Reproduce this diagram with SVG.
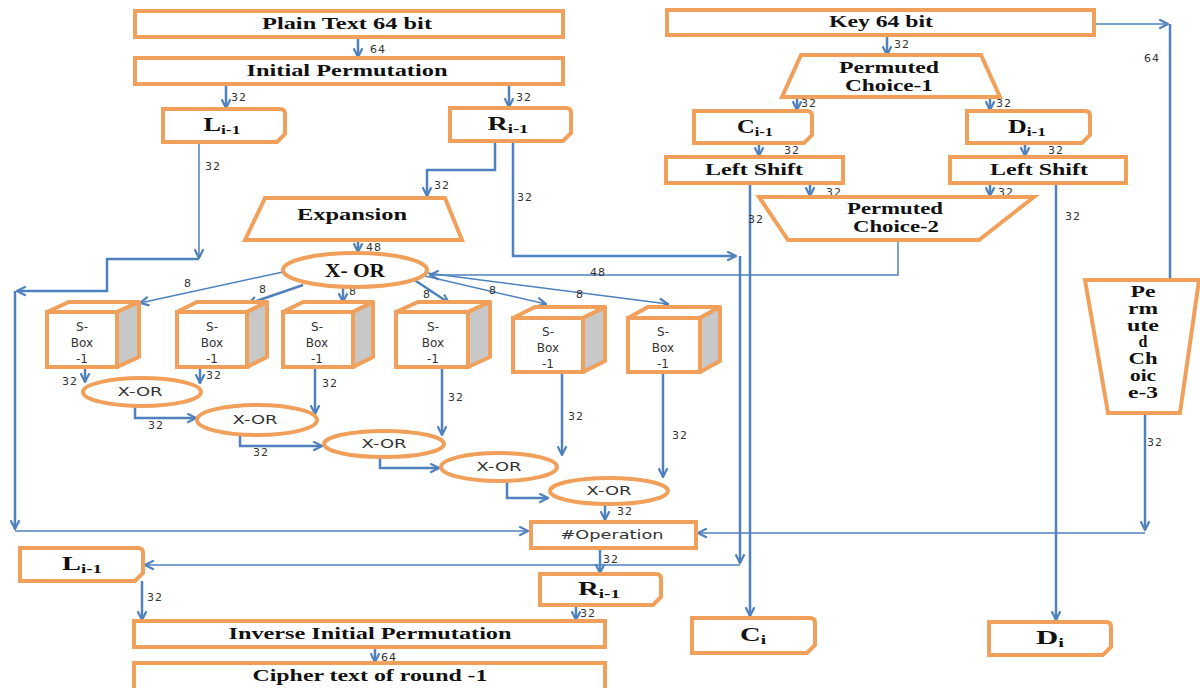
<svg xmlns="http://www.w3.org/2000/svg" width="1200" height="688" viewBox="0 0 1200 688">
<style>
.box{fill:#fff;stroke:#F0A05A;stroke-width:4}
.side{fill:#C8C8C8;stroke:#F0A05A;stroke-width:4;stroke-linejoin:round}
.c{fill:none;stroke:#4F81BD;stroke-width:2.5}
.t{fill:none;stroke:#4F81BD;stroke-width:1.5}
.lbl{font-family:"Liberation Serif",serif;font-weight:bold;font-size:16px;fill:#111;text-anchor:middle}
.big{font-size:18px}
.sub{font-size:12px}
.num{font-family:"DejaVu Sans",sans-serif;font-size:11px;fill:#333;letter-spacing:1px}
.sb{font-family:"DejaVu Sans",sans-serif;font-size:12px;fill:#333;text-anchor:middle}
.xo{font-family:"DejaVu Sans",sans-serif;font-size:12px;fill:#333;text-anchor:middle}
</style>
<defs>
<marker id="a" viewBox="0 0 10 10" refX="9" refY="5" markerWidth="11" markerHeight="11" markerUnits="userSpaceOnUse" orient="auto">
<path d="M1,1 L9,5 L1,9" fill="none" stroke="#4F81BD" stroke-width="2"/>
</marker>
</defs>

<g id="connectors">
<path class="c" d="M358,37 V57" marker-end="url(#a)"/>
<path class="c" d="M226,84 V108" marker-end="url(#a)"/>
<path class="c" d="M509,84 V107" marker-end="url(#a)"/>
<path class="t" d="M199,142 V258" marker-end="url(#a)"/>
<path class="c" d="M199,259 H107 V291 H17" marker-end="url(#a)"/>
<path class="c" d="M15,291 V529" marker-end="url(#a)"/>
<path class="t" d="M15,531 H528" marker-end="url(#a)"/>
<path class="c" d="M495,141 V170 H427 V196" marker-end="url(#a)"/>
<path class="c" d="M513,141 V256 H736" marker-end="url(#a)"/>
<path class="c" d="M740,256 V563" marker-end="url(#a)"/>
<path class="t" d="M740,565 H145" marker-end="url(#a)"/>
<path class="c" d="M358,240 V252" marker-end="url(#a)"/>
<path class="t" d="M283,272 L140,303" marker-end="url(#a)"/>
<path class="c" d="M303,285 L248,304" marker-end="url(#a)"/>
<path class="c" d="M343,286 V302" marker-end="url(#a)"/>
<path class="c" d="M413,279 L449,303" marker-end="url(#a)"/>
<path class="t" d="M425,276 L546,304" marker-end="url(#a)"/>
<path class="t" d="M427,273 L668,304" marker-end="url(#a)"/>
<path class="t" d="M898,240 V275 H430" marker-end="url(#a)"/>
<path class="c" d="M85,367 V382" marker-end="url(#a)"/>
<path class="c" d="M200,367 V383" marker-end="url(#a)"/>
<path class="c" d="M315,367 V414" marker-end="url(#a)"/>
<path class="c" d="M442,367 V435" marker-end="url(#a)"/>
<path class="c" d="M562,372 V455" marker-end="url(#a)"/>
<path class="c" d="M663,372 V477" marker-end="url(#a)"/>
<path class="c" d="M135,407 V418 H196" marker-end="url(#a)"/>
<path class="c" d="M240,434 V446 H322" marker-end="url(#a)"/>
<path class="c" d="M380,457 V468 H439" marker-end="url(#a)"/>
<path class="c" d="M507,481 V498 H548" marker-end="url(#a)"/>
<path class="c" d="M605,505 V520" marker-end="url(#a)"/>
<path class="c" d="M600,548 V573" marker-end="url(#a)"/>
<path class="c" d="M142,581 V620" marker-end="url(#a)"/>
<path class="c" d="M576,605 V620" marker-end="url(#a)"/>
<path class="c" d="M375,647 V662" marker-end="url(#a)"/>
<path class="c" d="M887,35 V55" marker-end="url(#a)"/>
<path class="t" d="M1094,24 H1168" marker-end="url(#a)"/>
<path class="c" d="M1170,24 V280"/>
<path class="c" d="M797,97 V110" marker-end="url(#a)"/>
<path class="c" d="M990,97 V110" marker-end="url(#a)"/>
<path class="c" d="M759,143 V156" marker-end="url(#a)"/>
<path class="c" d="M1025,143 V156" marker-end="url(#a)"/>
<path class="c" d="M810,183 V196" marker-end="url(#a)"/>
<path class="c" d="M990,183 V196" marker-end="url(#a)"/>
<path class="c" d="M750,183 V616" marker-end="url(#a)"/>
<path class="c" d="M1056,183 V620" marker-end="url(#a)"/>
<path class="c" d="M1145,413 V530" marker-end="url(#a)"/>
<path class="t" d="M1145,533 H698" marker-end="url(#a)"/>
<text class="num" x="370" y="53">64</text>
<text class="num" x="231" y="101">32</text>
<text class="num" x="516" y="101">32</text>
<text class="num" x="205" y="170">32</text>
<text class="num" x="434" y="189">32</text>
<text class="num" x="517" y="201">32</text>
<text class="num" x="366" y="251">48</text>
<text class="num" x="184" y="287">8</text>
<text class="num" x="259" y="293">8</text>
<text class="num" x="349" y="295">8</text>
<text class="num" x="423" y="298">8</text>
<text class="num" x="489" y="294">8</text>
<text class="num" x="576" y="298">8</text>
<text class="num" x="590" y="276">48</text>
<text class="num" x="62" y="385">32</text>
<text class="num" x="206" y="379">32</text>
<text class="num" x="322" y="387">32</text>
<text class="num" x="448" y="401">32</text>
<text class="num" x="568" y="420">32</text>
<text class="num" x="672" y="439">32</text>
<text class="num" x="148" y="429">32</text>
<text class="num" x="253" y="456">32</text>
<text class="num" x="617" y="515">32</text>
<text class="num" x="603" y="563">32</text>
<text class="num" x="147" y="601">32</text>
<text class="num" x="580" y="617">32</text>
<text class="num" x="381" y="661">64</text>
<text class="num" x="894" y="48">32</text>
<text class="num" x="1144" y="62">64</text>
<text class="num" x="801" y="107">32</text>
<text class="num" x="996" y="107">32</text>
<text class="num" x="784" y="154">32</text>
<text class="num" x="1048" y="154">32</text>
<text class="num" x="826" y="196">32</text>
<text class="num" x="998" y="196">32</text>
<text class="num" x="748" y="223">32</text>
<text class="num" x="1065" y="220">32</text>
<text class="num" x="1147" y="446">32</text>
</g>

<g id="plain"><rect class="box" x="135" y="11" width="428" height="26"/><text class="lbl" x="347" y="29" textLength="170" lengthAdjust="spacingAndGlyphs">Plain Text 64 bit</text></g>
<g id="ip"><rect class="box" x="135" y="58" width="428" height="26"/><text class="lbl" x="347" y="76" textLength="201" lengthAdjust="spacingAndGlyphs">Initial Permutation</text></g>
<g id="l-top"><path class="box" d="M163,109 H280 Q285,109 285,114 V134 L277,142 H163 Z"/><text class="lbl big" x="222" y="131" textLength="37" lengthAdjust="spacingAndGlyphs">L<tspan class="sub" dy="3">i-1</tspan></text></g>
<g id="r-top"><path class="box" d="M450,108 H566 Q571,108 571,113 V133 L563,141 H450 Z"/><text class="lbl big" x="508" y="130" textLength="41" lengthAdjust="spacingAndGlyphs">R<tspan class="sub" dy="3">i-1</tspan></text></g>
<g id="expansion"><polygon class="box" points="265,198 445,198 462,240 245,240"/><text class="lbl" x="352" y="220" textLength="110" lengthAdjust="spacingAndGlyphs">Expansion</text></g>
<g id="xor-main"><ellipse class="box" cx="355" cy="270" rx="72" ry="17"/><text class="lbl big" x="355" y="277" textLength="60" lengthAdjust="spacingAndGlyphs">X- OR</text></g>

<g id="sbox1"><rect class="box" x="47" y="312" width="70" height="55"/><polygon class="box" points="47,312 117,312 139,302 69,302"/><polygon class="side" points="117,312 139,302 139,357 117,367"/><text class="sb" x="82" y="331">S-</text><text class="sb" x="82" y="347">Box</text><text class="sb" x="82" y="363">-1</text></g>
<g id="sbox2"><rect class="box" x="177" y="312" width="70" height="55"/><polygon class="box" points="177,312 247,312 267,302 197,302"/><polygon class="side" points="247,312 267,302 267,357 247,367"/><text class="sb" x="212" y="331">S-</text><text class="sb" x="212" y="347">Box</text><text class="sb" x="212" y="363">-1</text></g>
<g id="sbox3"><rect class="box" x="283" y="312" width="70" height="55"/><polygon class="box" points="283,312 353,312 373,302 303,302"/><polygon class="side" points="353,312 373,302 373,357 353,367"/><text class="sb" x="317" y="331">S-</text><text class="sb" x="317" y="347">Box</text><text class="sb" x="317" y="363">-1</text></g>
<g id="sbox4"><rect class="box" x="396" y="312" width="72" height="55"/><polygon class="box" points="396,312 468,312 490,302 418,302"/><polygon class="side" points="468,312 490,302 490,357 468,367"/><text class="sb" x="433" y="331">S-</text><text class="sb" x="433" y="347">Box</text><text class="sb" x="433" y="363">-1</text></g>
<g id="sbox5"><rect class="box" x="513" y="318" width="70" height="54"/><polygon class="box" points="513,318 583,318 605,307 535,307"/><polygon class="side" points="583,318 605,307 605,361 583,372"/><text class="sb" x="548" y="336">S-</text><text class="sb" x="548" y="352">Box</text><text class="sb" x="548" y="368">-1</text></g>
<g id="sbox6"><rect class="box" x="628" y="318" width="72" height="54"/><polygon class="box" points="628,318 700,318 720,307 648,307"/><polygon class="side" points="700,318 720,307 720,361 700,372"/><text class="sb" x="663" y="336">S-</text><text class="sb" x="663" y="352">Box</text><text class="sb" x="663" y="368">-1</text></g>

<g id="xor1"><ellipse class="box" cx="142" cy="392" rx="59" ry="14"/><text class="xo" x="140" y="396" textLength="45" lengthAdjust="spacingAndGlyphs">X-OR</text></g>
<g id="xor2"><ellipse class="box" cx="257" cy="420" rx="60" ry="15"/><text class="xo" x="255" y="424" textLength="45" lengthAdjust="spacingAndGlyphs">X-OR</text></g>
<g id="xor3"><ellipse class="box" cx="384" cy="444" rx="60" ry="13"/><text class="xo" x="384" y="448" textLength="45" lengthAdjust="spacingAndGlyphs">X-OR</text></g>
<g id="xor4"><ellipse class="box" cx="499" cy="467" rx="58" ry="14"/><text class="xo" x="499" y="471" textLength="45" lengthAdjust="spacingAndGlyphs">X-OR</text></g>
<g id="xor5"><ellipse class="box" cx="609" cy="491" rx="59" ry="13"/><text class="xo" x="609" y="495" textLength="45" lengthAdjust="spacingAndGlyphs">X-OR</text></g>

<g id="operation"><rect class="box" x="531" y="522" width="165" height="26"/><text class="xo" x="612" y="539" textLength="103" lengthAdjust="spacingAndGlyphs">#Operation</text></g>
<g id="l-bot"><path class="box" d="M20,548 H138 Q143,548 143,553 V573 L135,581 H20 Z"/><text class="lbl big" x="82" y="570" textLength="40" lengthAdjust="spacingAndGlyphs">L<tspan class="sub" dy="3">i-1</tspan></text></g>
<g id="r-bot"><path class="box" d="M540,574 H656 Q661,574 661,579 V597 L653,605 H540 Z"/><text class="lbl big" x="599" y="595" textLength="42" lengthAdjust="spacingAndGlyphs">R<tspan class="sub" dy="3">i-1</tspan></text></g>
<g id="iip"><rect class="box" x="134" y="621" width="471" height="26"/><text class="lbl" x="370" y="639" textLength="283" lengthAdjust="spacingAndGlyphs">Inverse Initial Permutation</text></g>
<g id="cipher"><rect class="box" x="134" y="663" width="471" height="30"/><text class="lbl" x="370" y="681" textLength="235" lengthAdjust="spacingAndGlyphs">Cipher text of round -1</text></g>

<g id="key"><rect class="box" x="667" y="10" width="427" height="25"/><text class="lbl" x="881" y="27" textLength="104" lengthAdjust="spacingAndGlyphs">Key 64 bit</text></g>
<g id="pc1"><polygon class="box" points="801,55 981,55 1000,97 782,97"/><text class="lbl" x="889" y="73" textLength="100" lengthAdjust="spacingAndGlyphs">Permuted</text><text class="lbl" x="889" y="91" textLength="88" lengthAdjust="spacingAndGlyphs">Choice-1</text></g>
<g id="c-prev"><path class="box" d="M694,111 H807 Q812,111 812,116 V135 L804,143 H694 Z"/><text class="lbl big" x="755" y="133" textLength="36" lengthAdjust="spacingAndGlyphs">C<tspan class="sub" dy="3">i-1</tspan></text></g>
<g id="d-prev"><path class="box" d="M967,111 H1085 Q1090,111 1090,116 V135 L1082,143 H967 Z"/><text class="lbl big" x="1027" y="133" textLength="38" lengthAdjust="spacingAndGlyphs">D<tspan class="sub" dy="3">i-1</tspan></text></g>
<g id="ls-left"><rect class="box" x="666" y="157" width="177" height="26"/><text class="lbl" x="754" y="175" textLength="98" lengthAdjust="spacingAndGlyphs">Left Shift</text></g>
<g id="ls-right"><rect class="box" x="950" y="157" width="176" height="26"/><text class="lbl" x="1039" y="175" textLength="98" lengthAdjust="spacingAndGlyphs">Left Shift</text></g>
<g id="pc2"><polygon class="box" points="759,197 1034,197 979,240 788,240"/><text class="lbl" x="895" y="214" textLength="96" lengthAdjust="spacingAndGlyphs">Permuted</text><text class="lbl" x="896" y="232" textLength="86" lengthAdjust="spacingAndGlyphs">Choice-2</text></g>
<g id="pc3"><polygon class="box" points="1085,280 1199,280 1180,413 1108,413"/>
<text class="lbl" x="1143" y="297" textLength="25" lengthAdjust="spacingAndGlyphs">Pe</text><text class="lbl" x="1143" y="314" textLength="30" lengthAdjust="spacingAndGlyphs">rm</text><text class="lbl" x="1143" y="331" textLength="32" lengthAdjust="spacingAndGlyphs">ute</text><text class="lbl" x="1143" y="347">d</text><text class="lbl" x="1143" y="364" textLength="29" lengthAdjust="spacingAndGlyphs">Ch</text><text class="lbl" x="1143" y="381" textLength="26" lengthAdjust="spacingAndGlyphs">oic</text><text class="lbl" x="1143" y="398" textLength="30" lengthAdjust="spacingAndGlyphs">e-3</text></g>
<g id="c-i"><path class="box" d="M692,618 H810 Q815,618 815,623 V645 L807,653 H692 Z"/><text class="lbl big" x="753" y="641" textLength="26" lengthAdjust="spacingAndGlyphs">C<tspan class="sub" dy="3">i</tspan></text></g>
<g id="d-i"><path class="box" d="M989,622 H1106 Q1111,622 1111,627 V647 L1103,655 H989 Z"/><text class="lbl big" x="1050" y="644" textLength="28" lengthAdjust="spacingAndGlyphs">D<tspan class="sub" dy="3">i</tspan></text></g>
</svg>
